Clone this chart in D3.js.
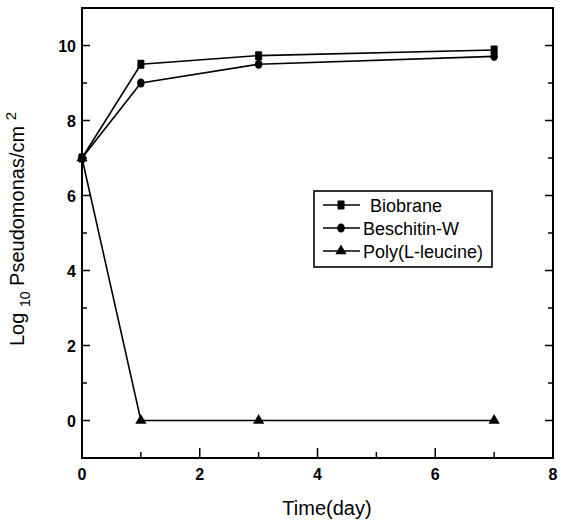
<!DOCTYPE html>
<html>
<head>
<meta charset="utf-8">
<script src="https://cdn.jsdelivr.net/npm/d3@7"></script>
<style>
  body { margin: 0; background: #fff; }
  text { font-family: "Liberation Sans", Arial, sans-serif; fill: #000; }
</style>
</head>
<body>
<div id="vis"></div>
<script>
// data
var days = [0, 1, 3, 7];
var biobrane = [7, 9.5, 9.73, 9.88];
var beschitin = [7, 9.0, 9.5, 9.71];
var polyLeucine = [7, 0, 0, 0];
var seriesNames = ["Biobrane", "Beschitin-W", "Poly(L-leucine)"];
var xTicks = [0, 2, 4, 6, 8];
var yTicks = [0, 2, 4, 6, 8, 10];

var margin = {top: 8, right: 8, bottom: 66, left: 82},
    width = 561 - margin.left - margin.right,
    height = 524 - margin.top - margin.bottom;

var svg = d3.select("#vis").append("svg")
    .attr("width", 561)
    .attr("height", 524);

var g = svg.append("g")
    .attr("transform", "translate(" + margin.left + "," + margin.top + ")");

var x = d3.scaleLinear().domain([0, 8]).range([0, width]);
var y = d3.scaleLinear().domain([-1, 11]).range([height, 0]);

// frame
g.append("rect")
  .attr("width", width).attr("height", height)
  .attr("fill", "none").attr("stroke", "#000").attr("stroke-width", 2);

// inward ticks, major + minor
var xMinor = d3.range(0, 9).filter(function(d){ return xTicks.indexOf(d) == -1 });
var yMinor = d3.range(1, 11, 2);

function tickLines(sel, vals, len, side) {
  sel.selectAll(null).data(vals).enter().append("line")
    .attr("stroke", "#000").attr("stroke-width", 1.5)
    .attr("x1", function(d){ return side == "b" ? x(d) : (side == "l" ? 0 : width) })
    .attr("x2", function(d){ return side == "b" ? x(d) : (side == "l" ? len : width - len) })
    .attr("y1", function(d){ return side == "b" ? height : y(d) })
    .attr("y2", function(d){ return side == "b" ? height - len : y(d) });
}
var ticks = g.append("g");
tickLines(ticks, xTicks, 10, "b");
tickLines(ticks, xMinor, 6, "b");
tickLines(ticks, yTicks, 8, "l");
tickLines(ticks, yMinor, 5, "l");
tickLines(ticks, yTicks, 8, "r");
tickLines(ticks, yMinor, 5, "r");

// tick labels
g.selectAll(".xl").data(xTicks).enter().append("text")
  .attr("x", function(d){ return x(d) })
  .attr("y", height + 22)
  .attr("text-anchor", "middle")
  .attr("font-size", 16).attr("font-weight", "bold")
  .text(function(d){ return d });

g.selectAll(".yl").data(yTicks).enter().append("text")
  .attr("x", -6)
  .attr("y", function(d){ return y(d) + 6 })
  .attr("text-anchor", "end")
  .attr("font-size", 16).attr("font-weight", "bold")
  .text(function(d){ return d });

// axis titles
svg.append("text")
  .attr("x", 327).attr("y", 515)
  .attr("text-anchor", "middle")
  .attr("font-size", 20)
  .text("Time(day)");

var yt = svg.append("text")
  .attr("transform", "translate(24,229) rotate(-90)")
  .attr("text-anchor", "middle")
  .attr("font-size", 20);
yt.append("tspan").text("Log ");
yt.append("tspan").attr("font-size", 14).attr("dy", 6).text("10");
yt.append("tspan").attr("dy", -6).text(" Pseudomonas/cm ");
yt.append("tspan").attr("font-size", 15).attr("dy", -8).text("2");

// series
var series = [
  {name: seriesNames[0], values: biobrane, shape: "square"},
  {name: seriesNames[1], values: beschitin, shape: "circle"},
  {name: seriesNames[2], values: polyLeucine, shape: "triangle"}
];

var line = d3.line()
  .x(function(d){ return x(d[0]) })
  .y(function(d){ return y(d[1]) });

function marker(sel, shape) {
  if (shape == "square") {
    sel.append("rect").attr("x", -3.5).attr("y", -4.5).attr("width", 7).attr("height", 9).attr("rx", 1);
  } else if (shape == "circle") {
    sel.append("ellipse").attr("rx", 3.8).attr("ry", 4.5);
  } else {
    sel.append("path").attr("d", d3.symbol().type(d3.symbolTriangle).size(55)());
  }
}

series.forEach(function(s){
  var pts = days.map(function(d, i){ return [d, s.values[i]] });
  g.append("path")
    .attr("d", line(pts))
    .attr("fill", "none").attr("stroke", "#000").attr("stroke-width", 1.6);
  pts.forEach(function(p){
    var m = g.append("g")
      .attr("transform", "translate(" + x(p[0]) + "," + y(p[1]) + ")")
      .attr("fill", "#000");
    marker(m, s.shape);
  });
});

// legend
var leg = svg.append("g").attr("transform", "translate(314,191)");
leg.append("rect")
  .attr("width", 178).attr("height", 76)
  .attr("fill", "#fff").attr("stroke", "#000").attr("stroke-width", 1.6);

series.forEach(function(s, i){
  var row = leg.append("g").attr("transform", "translate(0," + (14 + i * 23) + ")");
  row.append("line")
    .attr("x1", 9).attr("x2", 46)
    .attr("stroke", "#000").attr("stroke-width", 1.6);
  var m = row.append("g").attr("transform", "translate(27,0)").attr("fill", "#000");
  marker(m, s.shape);
  row.append("text")
    .attr("x", i == 0 ? 56 : 49).attr("y", 6.5)
    .attr("font-size", 18)
    .text(s.name);
});
</script>
</body>
</html>
